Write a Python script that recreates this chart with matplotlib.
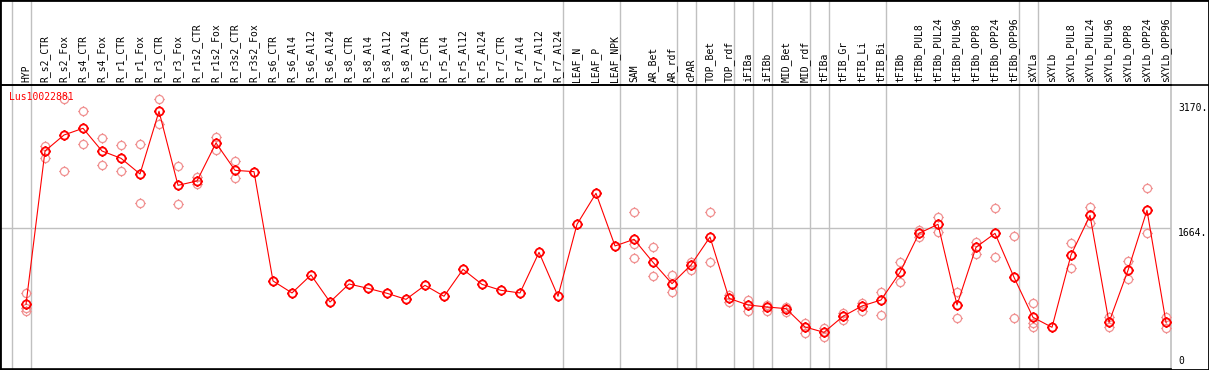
import numpy as np
import matplotlib
matplotlib.use("Agg")
import matplotlib.pyplot as plt
import matplotlib.path as mpath
import matplotlib.transforms as mtransforms
from matplotlib.patches import Rectangle

gene = "Lus10022881"

samples = ["HYP",
           "R_s2_CTR", "R_s2_Fox", "R_s4_CTR", "R_s4_Fox", "R_r1_CTR", "R_r1_Fox",
           "R_r3_CTR", "R_r3_Fox", "R_r1s2_CTR", "R_r1s2_Fox", "R_r3s2_CTR", "R_r3s2_Fox",
           "R_s6_CTR", "R_s6_Al4", "R_s6_Al12", "R_s6_Al24",
           "R_s8_CTR", "R_s8_Al4", "R_s8_Al12", "R_s8_Al24",
           "R_r5_CTR", "R_r5_Al4", "R_r5_Al12", "R_r5_Al24",
           "R_r7_CTR", "R_r7_Al4", "R_r7_Al12", "R_r7_Al24",
           "LEAF_N", "LEAF_P", "LEAF_NPK",
           "SAM", "AR_Bet", "AR_rdf", "cPAR", "TOP_Bet", "TOP_rdf",
           "iFIBa", "iFIBb", "MID_Bet", "MID_rdf",
           "tFIBa", "tFIB_Gr", "tFIB_Li", "tFIB_Bi",
           "tFIBb", "tFIBb_PUL8", "tFIBb_PUL24", "tFIBb_PUL96",
           "tFIBb_OPP8", "tFIBb_OPP24", "tFIBb_OPP96",
           "sXYLa", "sXYLb", "sXYLb_PUL8", "sXYLb_PUL24", "sXYLb_PUL96",
           "sXYLb_OPP8", "sXYLb_OPP24", "sXYLb_OPP96"]

# mean expression per sample
means = [745,
         2594, 2787, 2868, 2594, 2506, 2317, 3073, 2180, 2233, 2691, 2361, 2345,
         1027, 882, 1099, 773, 990, 938, 878, 805,
         974, 842, 1167, 986, 914, 882, 1372, 842,
         1710, 2084, 1449,
         1529, 1252, 994, 1220, 1557, 817,
         737, 713, 693, 472,
         407, 600, 725, 797,
         1131, 1601, 1710, 737, 1433, 1601, 1071,
         588, 468, 1340, 1818, 528, 1155, 1879, 528]

# individual replicates (empty where only the mean is visible)
replicates = [[878, 697, 669],
              [2659, 2514], [3221, 2353], [3073, 2675], [2747, 2422],
              [2663, 2349], [2675, 1963], [3221, 2916], [2409, 1951],
              [2277, 2192], [2763, 2602], [2474, 2265], [],
              [], [], [], [], [], [], [], [],
              [], [], [], [], [], [], [], [],
              [], [], [],
              [1855, 1469, 1300], [1433, 1083], [1095, 890], [1260, 1159],
              [1855, 1260], [858, 773],
              [797, 669], [737, 669], [717, 649], [524, 403],
              [464, 347], [637, 556], [757, 669], [890, 612],
              [1252, 1011], [1642, 1561], [1798, 1622], [894, 576],
              [1493, 1356], [1903, 1312], [1569, 576],
              [757, 516, 468], [], [1481, 1179], [1915, 1722], [592, 472],
              [1264, 1055], [2144, 1601], [596, 464]]

# first sample of each tissue group (grey separators)
group_starts = [0, 1, 29, 32, 35, 36, 38, 39, 40, 42, 43, 46, 53, 54]

ytick_vals = [0, 1664, 3170]
ytick_text = ["0", "1664.", "3170."]

W, H = 1209, 370
fig = plt.figure(figsize=(W / 100, H / 100), dpi=100)

# plot area in pixels: x 0..1171, y 85..369 (from top)
ax = fig.add_axes([0, 1 / H, 1171 / W, 284 / H])
ax.set_xlim(-26 / 19, (1171 - 26) / 19)
ax.set_ylim(-35, 3390)

grey = "#c0c0c0"
head = 1 + 85 / 284

# circle with little ticks, like the original bitmap markers
circ = mpath.Path.unit_circle()
t = 1.28
tick_v = [(0, 1), (0, t), (0, -1), (0, -t), (1, 0), (t, 0), (-1, 0), (-t, 0)]
tick_c = [mpath.Path.MOVETO, mpath.Path.LINETO] * 4
marker = mpath.Path(np.concatenate([circ.vertices, tick_v]),
                    np.concatenate([circ.codes, tick_c]))

for g in group_starts:
    ax.axvline(g - 0.76, ymin=0, ymax=head, color=grey, lw=1, clip_on=False, zorder=1)
ax.axvline(ax.get_xlim()[1], ymin=0, ymax=head, color=grey, lw=1.2, clip_on=False, zorder=1)
ax.axhline(1664, color=grey, lw=1, zorder=1)

x = np.arange(len(samples))
for i, reps in enumerate(replicates):
    if reps:
        ax.plot([i] * len(reps), reps, linestyle="none", marker=marker, markersize=7.5,
                markerfacecolor="none", markeredgecolor="#f09090", markeredgewidth=0.9, zorder=2)

ax.plot(x, means, color="#ff0000", lw=0.8, marker=marker, markersize=7.5,
        markerfacecolor="none", markeredgecolor="#ff0000", markeredgewidth=1.3, zorder=3)

ax.text(9 / 1171, 1 - 12 / 284, gene, transform=ax.transAxes, color="#ff0000",
        family="DejaVu Sans Mono", fontsize=7, va="center", ha="left")

# sample names along the top
ax.set_xticks(x)
ax.set_xticklabels(samples, rotation=90, family="DejaVu Sans Mono", fontsize=7)
ax.tick_params(axis="x", top=True, bottom=False, labeltop=True, labelbottom=False,
               length=0, pad=2)

ax.yaxis.tick_right()
ax.set_yticks(ytick_vals)
ax.set_yticklabels(ytick_text, family="DejaVu Sans Mono", fontsize=7)
ax.tick_params(axis="y", length=0, pad=5)
for lbl, v in zip(ax.get_yticklabels(), ytick_vals):
    lbl.set_va("bottom" if v == 0 else "top")

for side in ["top", "bottom", "left"]:
    ax.spines[side].set_color("black")
    ax.spines[side].set_linewidth(1.2)
ax.spines["right"].set_visible(False)

fig.add_artist(Rectangle((0, 0), 1, 1, transform=fig.transFigure, fill=False,
                         edgecolor="black", lw=2))
# header separator across full width
fig.add_artist(plt.Line2D([0, 1], [1 - 85 / H, 1 - 85 / H], transform=fig.transFigure,
                          color="black", lw=1.2))

fig.savefig("out.png", dpi=100)
